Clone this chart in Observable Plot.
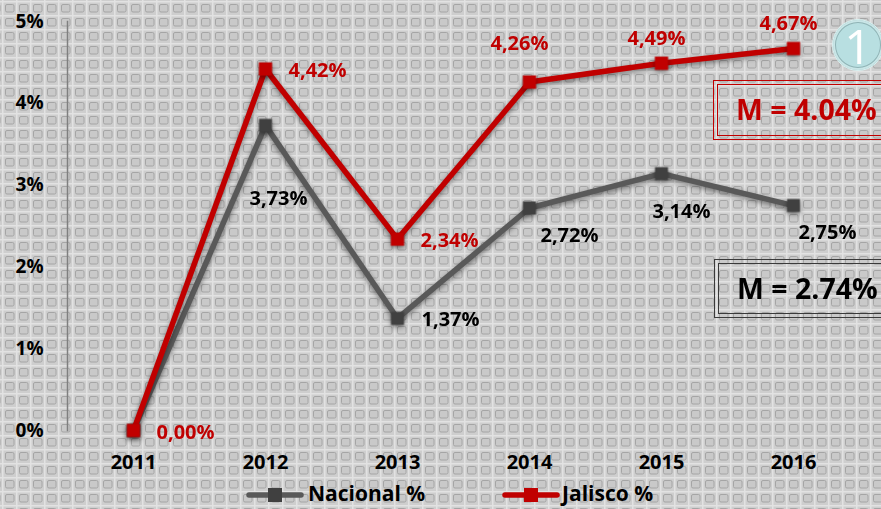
<!DOCTYPE html>
<html>
<head>
<meta charset="utf-8">
<script src="https://cdn.jsdelivr.net/npm/d3@7"></script>
<script src="https://cdn.jsdelivr.net/npm/@observablehq/plot@0.6"></script>
<style>
html,body{margin:0;padding:0;}
body{width:881px;height:509px;overflow:hidden;position:relative;font-family:"Open Sans",sans-serif;background-color:#cdcdcd;}
#chart svg{display:block;}
.mbox{position:absolute;box-sizing:border-box;border:1.5px solid;}
.mbox .inner{position:absolute;left:3px;top:3px;right:3px;bottom:3px;border:1.5px solid;}
.mbox span{position:absolute;left:22px;top:0;font-weight:700;font-size:28.5px;white-space:nowrap;}
#badge{position:absolute;left:832px;top:19px;width:52px;height:52px;border-radius:50%;box-sizing:border-box;background:#b8dfe1;border:1px solid #d8eeee;box-shadow:inset 0 0 0 2px #c9e6e7, inset 0 0 0 3px #8fb3b5;color:#fff;font-size:48px;line-height:52px;text-align:center;font-weight:400;}
#legend{position:relative;height:29px;}
#legend .sw{position:absolute;top:7px;}
#legend .lt{position:absolute;top:3px;line-height:21px;font-size:21px;font-weight:700;color:#000;white-space:nowrap;}
</style>
</head>
<body>
<div id="chart"></div>
<div id="legend"></div>
<script>
const years = ["2011", "2012", "2013", "2014", "2015", "2016"];
const nacional = [0, 3.73, 1.37, 2.72, 3.14, 2.75];
const jalisco = [0, 4.42, 2.34, 4.26, 4.49, 4.67];
const yTicks = [0, 1, 2, 3, 4, 5];
const seriesNames = ["Nacional %", "Jalisco %"];
const meanNacional = "M = 2.74%";
const meanJalisco = "M = 4.04%";
const badgeText = "1";

const RED = "#c00000", GRAY = "#595959", GRAYMK = "#404040";

// background texture
const tile = `<svg xmlns='http://www.w3.org/2000/svg' width='14' height='14'><rect width='14' height='14' fill='#cecece'/><path d='M0 0.75H14M0.75 0V14' stroke='#e2e2e2' stroke-width='1.5'/><rect x='3.5' y='3.5' width='8.5' height='7.5' rx='1.5' fill='#c9c9c9' stroke='#a5a5a5' stroke-width='1'/></svg>`;
document.body.style.backgroundImage = `url("data:image/svg+xml,${encodeURIComponent(tile)}")`;
document.body.style.backgroundPosition = "2px 1px";

const nac = years.map((y, i) => ({year: y, value: nacional[i]}));
const jal = years.map((y, i) => ({year: y, value: jalisco[i]}));
const fmt = d => d.value.toFixed(2).replace(".", ",") + "%";

function lab(data, ys, color, dx, dy, anchor) {
  return Plot.text(data, {
    filter: d => ys.includes(d.year),
    x: "year", y: "value", text: fmt,
    dx, dy, textAnchor: anchor, fill: color,
    fontSize: 20, fontWeight: 700
  });
}

const plot = Plot.plot({
  width: 881, height: 480,
  marginTop: 21, marginBottom: 50, marginLeft: 67, marginRight: 22,
  style: {background: "transparent", fontFamily: "Open Sans", overflow: "visible"},
  x: {type: "point", domain: years, padding: 0.5, label: null},
  y: {domain: [0, 5], label: null},
  marks: [
    Plot.frame({anchor: "left", stroke: "#7f7f7f", strokeWidth: 1.5}),
    Plot.axisY({ticks: yTicks, tickSize: 0, tickPadding: 24, tickFormat: d => d + "%", fontSize: 19, fontWeight: 700, fill: "#000", label: null}),
    Plot.axisX({tickSize: 0, tickPadding: 24, fontSize: 20, fontWeight: 700, fill: "#000", label: null}),
    Plot.line(nac, {x: "year", y: "value", stroke: GRAY, strokeWidth: 5.5}),
    Plot.dot(nac, {x: "year", y: "value", symbol: "square", r: 7.3, fill: GRAYMK}),
    Plot.line(jal, {x: "year", y: "value", stroke: RED, strokeWidth: 5.5}),
    Plot.dot(jal, {x: "year", y: "value", symbol: "square", r: 7.5, fill: RED}),
    lab(jal, ["2011", "2012", "2013"], RED, 23, 2, "start"),
    lab(jal, ["2014"], RED, -10, -38, "middle"),
    lab(jal, ["2015", "2016"], RED, -5, -25, "middle"),
    lab(nac, ["2012"], "#000", 13, 73, "middle"),
    lab(nac, ["2013"], "#000", 24, 1, "start"),
    lab(nac, ["2014"], "#000", 40, 28, "middle"),
    lab(nac, ["2015"], "#000", 20, 38, "middle"),
    lab(nac, ["2016"], "#000", 34, 27, "middle")
  ]
});
plot.querySelectorAll('g[aria-label="line"], g[aria-label="dot"]').forEach(g => {
  g.style.filter = "drop-shadow(0px 2px 2.5px rgba(0,0,0,0.45))";
});
document.getElementById("chart").appendChild(plot);

// annotations
function mbox(text, color, textColor, left, top, h) {
  const b = document.createElement("div");
  b.className = "mbox";
  Object.assign(b.style, {left: left + "px", top: top + "px", width: "190px", height: h + "px", borderColor: color});
  const inner = document.createElement("div");
  inner.className = "inner"; inner.style.borderColor = color;
  const s = document.createElement("span");
  s.textContent = text;
  Object.assign(s.style, {color: textColor, lineHeight: (h - 3) + "px"});
  b.append(inner, s);
  document.body.appendChild(b);
}
mbox(meanJalisco, RED, RED, 713, 80, 60);
mbox(meanNacional, "#3a3a3a", "#000", 714, 259, 59);
const badge = document.createElement("div");
badge.id = "badge"; badge.textContent = badgeText;
document.body.appendChild(badge);

// legend
const legend = document.getElementById("legend");
function item(name, lineColor, mkColor, x0, x1, tx) {
  const w = x1 - x0;
  const sw = document.createElementNS("http://www.w3.org/2000/svg", "svg");
  sw.setAttribute("class", "sw");
  sw.setAttribute("width", w); sw.setAttribute("height", 16);
  sw.style.left = x0 + "px";
  sw.innerHTML = `<line x1="3" x2="${w - 3}" y1="8" y2="8" stroke="${lineColor}" stroke-width="5.5" stroke-linecap="round"/><rect x="${w / 2 - 7}" y="1" width="14" height="14" fill="${mkColor}"/>`;
  legend.appendChild(sw);
  const t = document.createElement("span");
  t.className = "lt"; t.textContent = name; t.style.left = tx + "px";
  legend.appendChild(t);
}
item(seriesNames[0], GRAY, GRAYMK, 246, 304, 308);
item(seriesNames[1], RED, RED, 502, 560, 562);
</script>
</body>
</html>
